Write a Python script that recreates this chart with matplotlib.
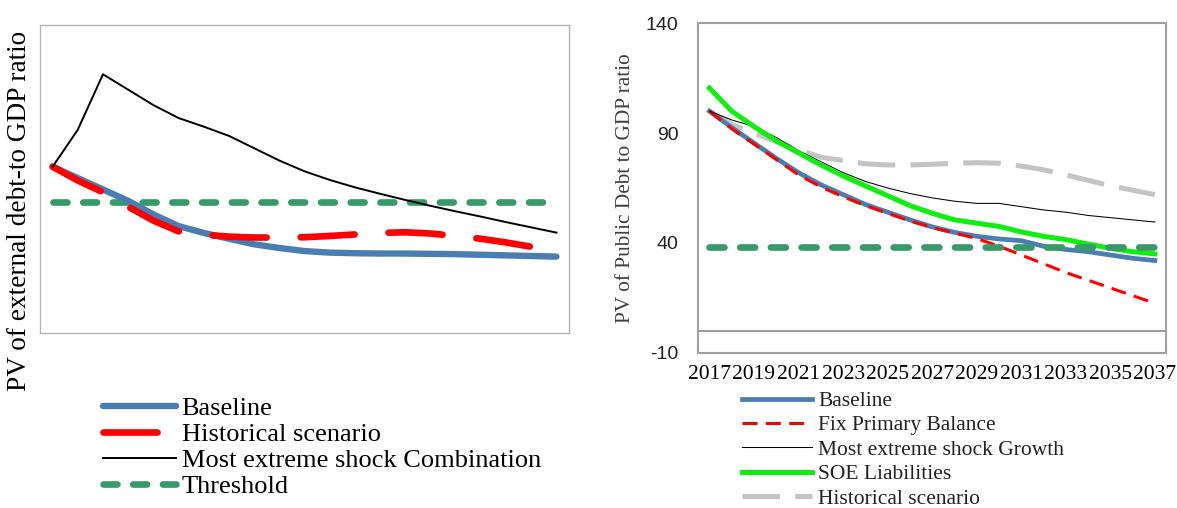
import numpy as np
import matplotlib
matplotlib.use("Agg")
import matplotlib.pyplot as plt

plt.rcParams['lines.scale_dashes'] = False

# ---- left chart: external debt (no scale shown, values read on a 0-100 grid)
years = list(range(2017, 2038))
ext_baseline = [54, 50.3, 46.6, 42.9, 38.5, 34.7, 32.5, 30.6, 28.8, 27.6, 26.6,
                26.1, 25.9, 25.8, 25.8, 25.7, 25.6, 25.4, 25.2, 25.0, 24.8]
ext_historical = [54, 49.5, 45.7, 41.0, 36.5, 33.0, 31.9, 31.3, 31.0, 31.0, 31.1,
                  31.5, 32.0, 32.5, 32.7, 32.3, 31.5, 30.6, 29.4, 28.0, 26.8]
ext_extreme = [54, 66, 84, 79, 74, 69.8, 67, 64, 60, 56, 52.5,
               49.7, 47.3, 45.2, 43.2, 41.3, 39.5, 37.8, 36, 34.3, 32.6]
ext_threshold = [42.6] * len(years)
ext_labels = ["Baseline", "Historical scenario",
              "Most extreme shock Combination", "Threshold"]

# ---- right chart: public debt
pub_baseline = [100, 92.5, 85.5, 78.5, 72, 66.5, 62, 57.5, 54, 50.5, 47.3,
                44.8, 43, 41.8, 41, 38.5, 37, 36, 34.5, 33, 32]
pub_fixpb = [100, 92, 85, 78, 71, 65.5, 61, 57, 53.5, 50, 47,
             44.5, 42, 38.5, 34.5, 30.5, 26.5, 23, 19.5, 16, 12.5]
pub_extreme = [100, 96, 93, 88, 82, 77, 72, 68, 65, 62.5, 60.5,
               59, 58, 58, 56.5, 55, 54, 52.5, 51.5, 50.5, 49.5]
pub_soe = [110.5, 100, 93, 86.5, 81, 75.5, 70.5, 66, 61.5, 57, 53.5,
           50.5, 49, 47.5, 45, 43, 41.5, 39.5, 37.5, 36, 35]
pub_historical = [100, 94, 90, 86, 82.5, 79, 77.5, 76, 75.5, 75.5, 75.8,
                  76.3, 76.5, 76.3, 75, 73.3, 71, 68.5, 66, 64, 62]
pub_threshold = [38] * len(years)
pub_labels = ["Baseline", "Fix Primary Balance", "Most extreme shock Growth",
              "SOE Liabilities", "Historical scenario"]
pub_yticks = [-10, 40, 90, 140]
pub_xticks = list(range(2017, 2038, 2))

BLUE = "#4a7eb0"
RED = "#ff0000"
TGREEN = "#38996a"
LIME = "#10ee10"
GRAY = "#c4c4c4"
SERIF = "Liberation Serif"

W, H = 1177, 508
fig = plt.figure(figsize=(W / 100, H / 100), dpi=100)

def box(x0, y0, x1, y1):
    # pixel box (top-left origin) -> figure fraction rect
    return [x0 / W, 1 - y1 / H, (x1 - x0) / W, (y1 - y0) / H]

# ---------------- left
ax1 = fig.add_axes(box(40, 25, 569, 333))
ax1.plot(years, ext_threshold, color=TGREEN, lw=4.8, dashes=(10, 11.4),
         dash_capstyle='round', label=ext_labels[3], zorder=1)
ax1.plot(years, ext_baseline, color=BLUE, lw=4.6, solid_capstyle='round',
         label=ext_labels[0], zorder=2)
ax1.plot(years, ext_historical, color=RED, lw=4.8, dashes=(38.9, 24.5),
         dash_capstyle='round', label=ext_labels[1], zorder=3)
ax1.plot(years, ext_extreme, color="black", lw=1.4, label=ext_labels[2], zorder=4)
ax1.set_xlim(2016.5, 2037.5)
ax1.set_ylim(0, 100)
ax1.set_xticks([])
ax1.set_yticks([])
for s in ax1.spines.values():
    s.set_color("#b4b4b4")
    s.set_linewidth(1.0)

fig.text(20 / W, 1 - 211 / H, "PV of external debt-to GDP ratio",
         rotation=90, ha='center', va='center', family=SERIF, fontsize=19.6)

h, l = ax1.get_legend_handles_labels()
order = [1, 2, 3, 0]
fig.legend([h[i] for i in order], [l[i] for i in order],
           loc='upper left', bbox_to_anchor=(102.7 / W, 1 - 396.5 / H),
           frameon=False, prop={'family': SERIF, 'size': 19},
           handlelength=2.77, handletextpad=0.22, labelspacing=0.1,
           borderpad=0, borderaxespad=0)

# ---------------- right
ax2 = fig.add_axes(box(698.3, 23.3, 1166, 352.7))
ax2.axhline(0, color="#8a8a8a", lw=1.2, zorder=1)
ax2.plot(years, pub_historical, color=GRAY, lw=3.6, dashes=(27, 11),
         label=pub_labels[4], zorder=2)
ax2.plot(years, pub_baseline, color=BLUE, lw=3.4, label=pub_labels[0], zorder=3)
ax2.plot(years, pub_fixpb, color=RED, lw=2.2, dashes=(10.8, 6),
         label=pub_labels[1], zorder=4)
ax2.plot(years, pub_extreme, color="black", lw=0.75, label=pub_labels[2], zorder=5)
ax2.plot(years, pub_soe, color=LIME, lw=3.6, label=pub_labels[3], zorder=6)
ax2.plot(years, pub_threshold, color=TGREEN, lw=4.8, dashes=(10.8, 11.3),
         dash_capstyle='round', zorder=7)
ax2.set_xlim(2016.5, 2037.5)
ax2.set_ylim(-10, 140)
ax2.set_yticks(pub_yticks)
ax2.set_xticks(pub_xticks)
ax2.set_xticklabels([str(y) for y in pub_xticks], family=SERIF, fontsize=15.5)
ax2.set_yticklabels([str(v) for v in pub_yticks], family='Liberation Sans',
                    fontsize=14, color="#222222")
ax2.tick_params(axis='both', length=0)
ax2.tick_params(axis='y', pad=14.4)
ax2.tick_params(axis='x', pad=8.5)
for s in ax2.spines.values():
    s.set_color("#a0a0a0")
    s.set_linewidth(1.5)

fig.text(625 / W, 1 - 188 / H, "PV of Public Debt to GDP ratio",
         rotation=90, ha='center', va='center', family=SERIF, fontsize=15.3,
         color="#404040")

h2, l2 = ax2.get_legend_handles_labels()
order2 = [l2.index(n) for n in pub_labels]
fig.legend([h2[i] for i in order2], [l2[i] for i in order2],
           loc='upper left', bbox_to_anchor=(741.7 / W, 1 - 391 / H),
           frameon=False, prop={'family': SERIF, 'size': 15.5},
           handlelength=3.26, handletextpad=0.29, labelspacing=0.2,
           borderpad=0, borderaxespad=0, labelcolor="#222222")

fig.savefig("out.png", dpi=100)
